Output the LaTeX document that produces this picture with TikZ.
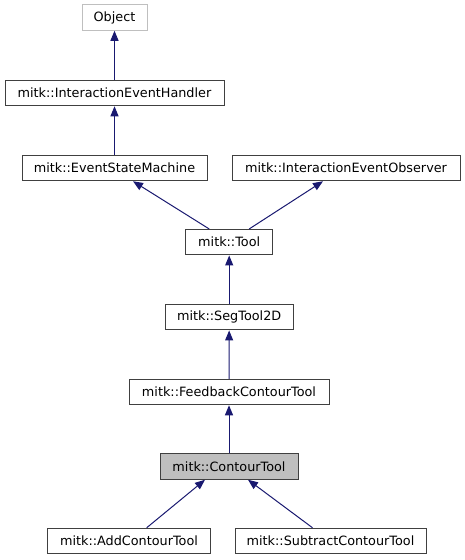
\documentclass[tikz,border=0pt]{standalone}
\usepackage{fontspec}
\setmainfont{DejaVu Sans}
\usetikzlibrary{arrows.meta}
\definecolor{edgeblue}{HTML}{191970}
\definecolor{nodegray}{HTML}{BFBFBF}
\begin{document}
\begin{tikzpicture}[x=1pt,y=-1pt,
  cls/.style={draw=black!75,line width=1pt,minimum height=25.5pt,inner sep=0pt,font=\fontsize{12.8}{15}\selectfont},
  ext/.style={cls,draw=nodegray},
  cur/.style={cls,fill=nodegray},
  inh/.style={edgeblue,line width=1pt,-{Triangle[length=10pt,width=8pt]}}]
\useasboundingbox (0,0) rectangle (464,560);
\node[ext,minimum width=65pt] (obj) at (114.5,17.5) {Object};
\node[cls,minimum width=219pt] (ieh) at (114.5,93) {mitk::InteractionEventHandler};
\node[cls,minimum width=185pt] (esm) at (114.5,168) {mitk::EventStateMachine};
\node[cls,minimum width=228pt] (ieo) at (346,168) {mitk::InteractionEventObserver};
\node[cls,minimum width=87pt] (tool) at (229.2,242.2) {mitk::Tool};
\node[cls,minimum width=128pt] (seg) at (229.2,317.2) {mitk::SegTool2D};
\node[cls,minimum width=200pt] (fct) at (229,392) {mitk::FeedbackContourTool};
\node[cur,minimum width=138pt] (ct) at (229,466.5) {mitk::ContourTool};
\node[cls,minimum width=163pt] (add) at (129,541) {mitk::AddContourTool};
\node[cls,minimum width=191pt] (sub) at (330.5,541) {mitk::SubtractContourTool};
% inheritance
\draw[inh] (ieh) -- (obj);
\draw[inh] (esm) -- (ieh);
\draw[inh] ([xshift=-20pt]tool.north) -- ([xshift=18.5pt]esm.south);
\draw[inh] ([xshift=20pt]tool.north) -- ([xshift=-23pt]ieo.south);
\draw[inh] (seg) -- (tool);
\draw[inh] (fct) -- (seg);
\draw[inh] (ct) -- (fct);
\draw[inh] ([xshift=17.7pt]add.north) -- ([xshift=-24pt]ct.south);
\draw[inh] ([xshift=-18pt]sub.north) -- ([xshift=19pt]ct.south);
\end{tikzpicture}
\end{document}
